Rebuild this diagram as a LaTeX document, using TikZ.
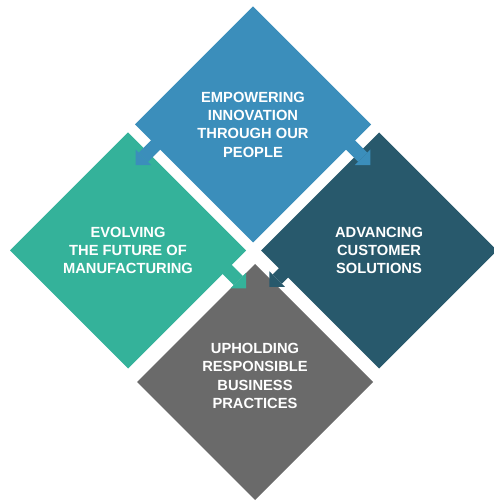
\documentclass[tikz,border=0pt]{standalone}
\usepackage{fontspec}
\setmainfont{Liberation Sans}
\usetikzlibrary{shapes.geometric,calc,arrows.meta}

\definecolor{pillarblue}{RGB}{59,142,187}
\definecolor{pillargreen}{RGB}{52,178,154}
\definecolor{pillarteal}{RGB}{40,89,108}
\definecolor{pillargrey}{RGB}{106,106,106}

\tikzset{
  pillar/.style={diamond, minimum width=118pt, minimum height=118pt,
    inner sep=0pt, outer sep=0pt, text=white, align=center,
    font=\fontsize{7.35}{9.15}\selectfont\bfseries},
  flow/.style={line width=6.5pt,
    -{Triangle[length=5.5pt,width=11pt,line width=0pt]}}
}

\begin{document}
\begin{tikzpicture}[x=0.5pt, y=-0.5pt]

  \useasboundingbox (0,0) rectangle (493,501);

  % the four pillars
  \node [pillar, fill=pillarblue]  (people)        at (253,124.5) {EMPOWERING\\INNOVATION\\THROUGH OUR\\PEOPLE};
  \node [pillar, fill=pillargreen] (manufacturing) at (128,250.5) {EVOLVING\\THE FUTURE OF\\MANUFACTURING};
  \node [pillar, fill=pillarteal]  (customers)     at (379,250.5) {ADVANCING\\CUSTOMER\\SOLUTIONS};
  \node [pillar, fill=pillargrey, text depth=6pt] (practices) at (255,382) {UPHOLDING\\RESPONSIBLE\\BUSINESS\\PRACTICES};

  % arrows across the gaps
  \coordinate (pm) at ($(people.west)!0.174!(people.south)$);
  \coordinate (pm0) at ($(pm)+(3,-3)$);
  \coordinate (pm1) at ($(pm)+(-20,20)$);
  \draw [flow, pillarblue] (pm0) -- (pm1);

  \coordinate (pc) at ($(people.east)!0.174!(people.south)$);
  \coordinate (pc0) at ($(pc)+(-3,-3)$);
  \coordinate (pc1) at ($(pc)+(20,20)$);
  \draw [flow, pillarblue] (pc0) -- (pc1);

  \coordinate (mp) at ($(manufacturing.east)!0.16!(manufacturing.south)$);
  \coordinate (mp0) at ($(mp)+(-3,-3)$);
  \coordinate (mp1) at ($(mp)+(19,19)$);
  \draw [flow, pillargreen] (mp0) -- (mp1);

  \coordinate (cp) at ($(customers.west)!0.19!(customers.south)$);
  \coordinate (cp0) at ($(cp)+(3,-3)$);
  \coordinate (cp1) at ($(cp)+(-14,14)$);
  \draw [flow, pillarteal] (cp0) -- (cp1);

\end{tikzpicture}
\end{document}
